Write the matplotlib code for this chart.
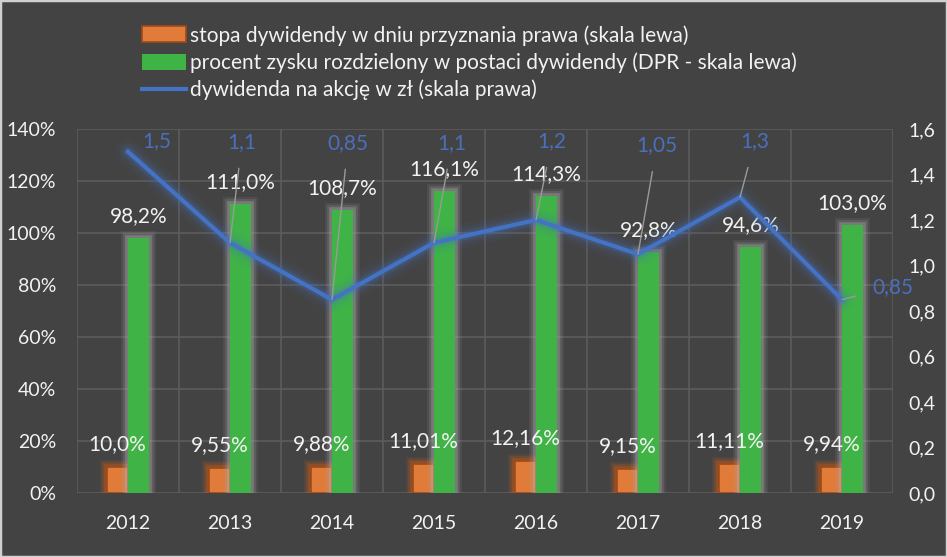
import matplotlib
matplotlib.use("Agg")
import matplotlib.pyplot as plt
import matplotlib.patheffects as pe
from matplotlib.patches import Patch, Rectangle
from matplotlib.lines import Line2D
from matplotlib.ticker import FuncFormatter, MultipleLocator
import numpy as np

# ---------------- data ----------------
years = ["2012", "2013", "2014", "2015", "2016", "2017", "2018", "2019"]
dividend_yield = [10.0, 9.55, 9.88, 11.01, 12.16, 9.15, 11.11, 9.94]          # % (left)
yield_labels = ["10,0%", "9,55%", "9,88%", "11,01%", "12,16%", "9,15%", "11,11%", "9,94%"]
payout_ratio = [98.2, 111.0, 108.7, 116.1, 114.3, 92.8, 94.6, 103.0]           # % (left)
payout_labels = ["98,2%", "111,0%", "108,7%", "116,1%", "114,3%", "92,8%", "94,6%", "103,0%"]
dps = [1.5, 1.1, 0.85, 1.1, 1.2, 1.05, 1.3, 0.85]                              # zł (right)
dps_labels = ["1,5", "1,1", "0,85", "1,1", "1,2", "1,05", "1,3", "0,85"]

legend_labels = [
    "stopa dywidendy w dniu przyznania prawa (skala lewa)",
    "procent zysku rozdzielony w postaci dywidendy (DPR - skala lewa)",
    "dywidenda na akcję w zł (skala prawa)",
]

# label placement (pixel offsets of the blue labels from their points)
dps_label_offsets = [(29, 11), (12, 101), (16, 157), (18, 100), (16, 79), (19, 109), (15, 56), (51, 13)]
dps_leader = [False, True, True, True, True, True, True, True]

# ---------------- style ----------------
BG = "#434343"
GRID = "#5c5c5c"
TXT = "#f2f2f2"
ORANGE = "#e07b39"
ORANGE_EDGE = "#a04a15"
GREEN = "#3fb346"
BLUE = "#4472c4"
BLUE_TXT = "#4a70bd"
FONT = ["Lato", "DejaVu Sans"]
plt.rcParams["font.family"] = FONT
FS_TICK = 14
FS_LAB = 15

W, H = 947, 557
fig = plt.figure(figsize=(W / 100, H / 100), dpi=100, facecolor=BG)
fig.patches.append(Rectangle((0, 0), 1, 1, transform=fig.transFigure, fill=False,
                             edgecolor="#d0d0d0", linewidth=2.5, zorder=100))

L, R, B, T = 77, 893, 493, 129
ax = fig.add_axes([L / W, 1 - B / H, (R - L) / W, (B - T) / H])
ax.set_facecolor(BG)
ax2 = ax.twinx()

x = np.arange(len(years))
bw = 0.205

glow_green = [pe.Stroke(linewidth=10, foreground="#a0a0a0", alpha=0.12),
              pe.Stroke(linewidth=7, foreground="#a8a8a8", alpha=0.18),
              pe.Stroke(linewidth=4, foreground="#b8b8b8", alpha=0.3),
              pe.Normal()]
glow_orange = [pe.Stroke(linewidth=10, foreground="#d8601a", alpha=0.12),
               pe.Stroke(linewidth=7, foreground="#d8601a", alpha=0.2),
               pe.Stroke(linewidth=4, foreground="#c85a18", alpha=0.35),
               pe.Normal()]

ob = ax.bar(x - bw / 2, dividend_yield, width=bw, color=ORANGE, edgecolor=ORANGE_EDGE,
            linewidth=1.2, zorder=3)
gb = ax.bar(x + bw / 2, payout_ratio, width=bw, color=GREEN, linewidth=0, zorder=3)
for b in ob:
    b.set_path_effects(glow_orange)
for b in gb:
    b.set_path_effects(glow_green)

ax.set_xlim(-0.5, len(years) - 0.5)
ax.set_ylim(0, 140)
ax.yaxis.set_major_locator(MultipleLocator(20))
ax.yaxis.set_major_formatter(FuncFormatter(lambda v, p: f"{v:.0f}%"))
ax.set_xticks(x)
ax.set_xticklabels(years)
ax.set_xticks(np.arange(-0.5, len(years), 1), minor=True)
ax.grid(axis="y", which="major", color=GRID, linewidth=1.2, zorder=0)
ax.grid(axis="x", which="minor", color=GRID, linewidth=1.2, zorder=0)
ax.grid(axis="x", which="major", visible=False)
ax.set_axisbelow(True)
for s in ax.spines.values():
    s.set_visible(False)
for s in ax2.spines.values():
    s.set_visible(False)
ax.tick_params(axis="both", which="both", length=0, colors=TXT, labelsize=FS_TICK)
ax.tick_params(axis="y", pad=15)
ax.tick_params(axis="x", pad=16)

# line on right axis
ax2.set_ylim(0, 1.6)
ax2.yaxis.set_major_locator(MultipleLocator(0.2))
ax2.yaxis.set_major_formatter(FuncFormatter(lambda v, p: f"{v:.1f}".replace(".", ",")))
ax2.tick_params(axis="y", length=0, colors=TXT, labelsize=FS_TICK, pad=11)
for lw, a in [(18, 0.05), (13, 0.07), (9, 0.12), (6, 0.2)]:
    ax2.plot(x, dps, color=BLUE, linewidth=lw, alpha=a, solid_capstyle="round", zorder=4)
ax2.plot(x, dps, color=BLUE, linewidth=3.0, zorder=5)

# data labels
for xi, v, s in zip(x, dividend_yield, yield_labels):
    ax.annotate(s, (xi - bw / 2, v), xytext=(0, 23), textcoords="offset pixels",
                ha="center", va="center", color=TXT, fontsize=FS_LAB, zorder=6)
for xi, v, s in zip(x, payout_ratio, payout_labels):
    ax.annotate(s, (xi + bw / 2, v), xytext=(0, 22), textcoords="offset pixels",
                ha="center", va="center", color=TXT, fontsize=FS_LAB, zorder=6)
for xi, v, s, off, lead in zip(x, dps, dps_labels, dps_label_offsets, dps_leader):
    ap = dict(arrowstyle="-", color="#9a9a9a", linewidth=1.0, shrinkA=10, shrinkB=0) if lead else None
    ax2.annotate(s, (xi, v), xytext=off, textcoords="offset pixels",
                 ha="center", va="center", color=BLUE_TXT, fontsize=FS_LAB, zorder=7,
                 arrowprops=ap)

# legend
handles = [Patch(facecolor=ORANGE, edgecolor=ORANGE_EDGE, linewidth=1.2),
           Patch(facecolor=GREEN, edgecolor=GREEN, linewidth=0),
           Line2D([0], [0], color=BLUE, linewidth=3.0)]
leg = fig.legend(handles, legend_labels, loc="upper left",
                 bbox_to_anchor=(142 / W, 1 - 25 / H), frameon=False,
                 fontsize=15, labelcolor=TXT, handlelength=2.1, handleheight=0.8,
                 handletextpad=0.2, labelspacing=0.32, borderaxespad=0, borderpad=0)

fig.savefig("out.png", dpi=100, facecolor=BG)
